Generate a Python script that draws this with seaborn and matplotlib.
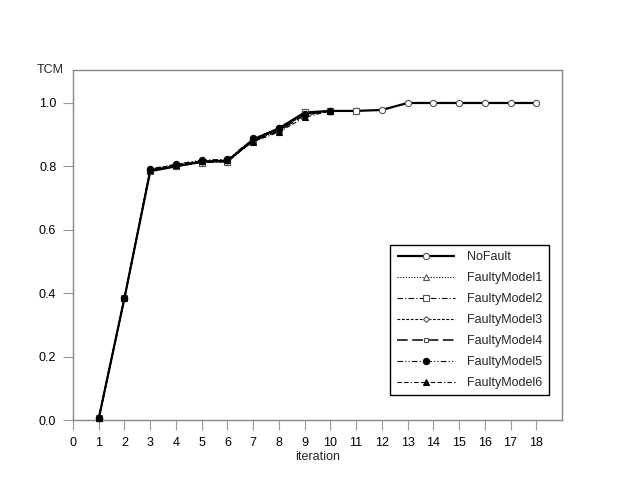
import numpy as np
import pandas as pd
import matplotlib
matplotlib.use("Agg")
import matplotlib.pyplot as plt
import seaborn as sns

# values
iterations = list(range(1, 19))
no_fault = [0.005, 0.385, 0.785, 0.800, 0.815, 0.817, 0.885, 0.920, 0.970,
            0.975, 0.975, 0.978, 1.0, 1.0, 1.0, 1.0, 1.0, 1.0]
faulty1 = [0.005, 0.385, 0.788, 0.800, 0.812, 0.815, 0.880, 0.915, 0.965, 0.975]
faulty2 = [0.005, 0.385, 0.785, 0.800, 0.812, 0.814, 0.882, 0.918, 0.970, 0.975, 0.975]
faulty3 = [0.005, 0.385, 0.788, 0.803, 0.815, 0.818, 0.882, 0.915, 0.965, 0.975]
faulty4 = [0.005, 0.385, 0.788, 0.803, 0.815, 0.818, 0.880, 0.912, 0.962, 0.975]
faulty5 = [0.005, 0.385, 0.792, 0.807, 0.820, 0.822, 0.888, 0.920, 0.965, 0.975]
faulty6 = [0.005, 0.385, 0.790, 0.805, 0.818, 0.820, 0.878, 0.908, 0.955, 0.975]

names = ["NoFault", "FaultyModel1", "FaultyModel2", "FaultyModel3",
         "FaultyModel4", "FaultyModel5", "FaultyModel6"]
series = [no_fault, faulty1, faulty2, faulty3, faulty4, faulty5, faulty6]

# style per series: linestyle, marker, marker face, line width, marker size
styles = {
    "NoFault": ((0, ()), "o", "white", 1.6, 4.5),
    "FaultyModel1": ((0, (1, 1.5)), "^", "white", 0.8, 4),
    "FaultyModel2": ((0, (5, 2, 1, 2)), "s", "white", 0.8, 4.5),
    "FaultyModel3": ((0, (2.5, 1.5)), "D", "white", 0.8, 3),
    "FaultyModel4": ((0, (7, 3)), "s", "white", 1.1, 3),
    "FaultyModel5": ((0, (5, 2, 1, 2, 1, 2)), "o", "black", 0.8, 4.5),
    "FaultyModel6": ((0, (4, 2, 4, 2, 1, 2)), "^", "black", 0.8, 4),
}

df = pd.concat([pd.DataFrame({"iteration": iterations[:len(v)], "TCM": v, "model": n})
                for n, v in zip(names, series)], ignore_index=True)

sns.set_style("white")
plt.rcParams["font.family"] = ["Liberation Sans", "DejaVu Sans"]

fig = plt.figure(figsize=(6.36, 4.91), dpi=100)
ax = fig.add_axes([0.1148, 0.1446, 0.8836 - 0.1148, 0.8574 - 0.1446])

for n in names:
    ls, mk, fc, lw, ms = styles[n]
    sub = df[df["model"] == n]
    sns.lineplot(data=sub, x="iteration", y="TCM", ax=ax, color="black",
                 linestyle=ls, linewidth=lw, marker=mk, markersize=ms,
                 markerfacecolor=fc, markeredgecolor="black" if fc == "black" else "#555555",
                 markeredgewidth=0.8, label=n, clip_on=False, zorder=3)

ax.set_xlim(0, 19)
ax.set_ylim(0, 1.104)
ax.set_xticks(range(0, 19))
ax.set_yticks([0.0, 0.2, 0.4, 0.6, 0.8, 1.0])
ax.set_yticklabels(["0.0", "0.2", "0.4", "0.6", "0.8", "1.0"])
ax.tick_params(axis="both", direction="out", length=7, width=0.8, color="#999999",
               labelsize=9, labelcolor="black", pad=5, left=True, bottom=True)
for s in ax.spines.values():
    s.set_color("#888888")
    s.set_linewidth(1.0)
ax.set_xlabel("iteration", fontsize=9, labelpad=2)
ax.set_ylabel("")
ax.text(-0.02, 1.0, "TCM", transform=ax.transAxes, ha="right", va="center", fontsize=9)

leg = ax.legend(loc="lower right", bbox_to_anchor=(0.973, 0.071), borderaxespad=0,
                fontsize=9, handlelength=4.7, handletextpad=0.95, labelspacing=0.72,
                borderpad=0.5, fancybox=False, framealpha=1)
leg.get_frame().set_edgecolor("black")
leg.get_frame().set_linewidth(1.0)

fig.savefig("out.png", dpi=100)
